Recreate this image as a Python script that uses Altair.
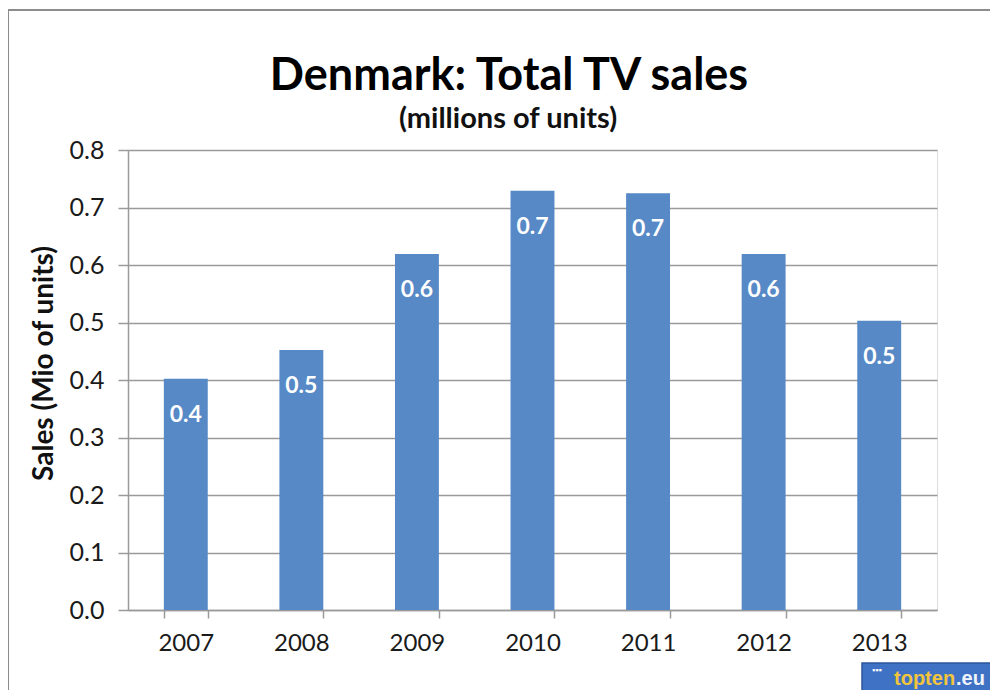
import altair as alt
import pandas as pd

years = ["2007", "2008", "2009", "2010", "2011", "2012", "2013"]
sales = [0.402, 0.452, 0.619, 0.729, 0.725, 0.619, 0.503]
title_text = "Denmark: Total TV sales"
subtitle_text = "(millions of units)"
y_title = "Sales (Mio of units)"

df = pd.DataFrame({"year": years, "sales": sales})

W, H = 809, 460
FONT = "Lato"
GRID = "#9a9a9a"

x_enc = alt.X(
    "year:N",
    sort=years,
    scale=alt.Scale(paddingInner=0.62, paddingOuter=0.31),
    axis=alt.Axis(
        title=None,
        labelAngle=0,
        labelFont=FONT,
        labelFontSize=24,
        labelColor="#1a1a1a",
        labelPadding=13,
        tickBand="extent",
        tickSize=8,
        tickColor=GRID,
        tickWidth=1.5,
        domainColor=GRID,
        domainWidth=1.5,
        grid=False,
    ),
)
y_enc = alt.Y(
    "sales:Q",
    scale=alt.Scale(domain=[0, 0.8], nice=False),
    axis=alt.Axis(
        title=y_title,
        titleFont=FONT,
        titleFontSize=28,
        titleFontWeight="bold",
        titleColor="#111111",
        titlePadding=11,
        titleY=213,
        values=[0, 0.1, 0.2, 0.3, 0.4, 0.5, 0.6, 0.7, 0.8],
        format=".1f",
        labelFont=FONT,
        labelFontSize=25,
        labelColor="#1a1a1a",
        labelPadding=14,
        tickSize=10,
        tickColor=GRID,
        tickWidth=1.5,
        domainColor=GRID,
        domainWidth=1.5,
        grid=True,
        gridColor=GRID,
        gridWidth=1.5,
    ),
)

base = alt.Chart(df)

bars = base.mark_bar(color="#5689c6").encode(x=x_enc, y=y_enc)

labels = base.mark_text(
    color="white", font=FONT, fontWeight="bold", fontSize=23, baseline="middle", dy=36
).encode(
    x=alt.X("year:N", sort=years),
    y=alt.Y("sales:Q"),
    text=alt.Text("sales:Q", format=".1f"),
)

one = alt.Data(values=[{"k": 1}])

title_mark = alt.Chart(one).mark_text(
    text=title_text, font=FONT, fontWeight="bold", fontSize=45, color="#000000",
    align="center", baseline="alphabetic"
).encode(x=alt.value(381), y=alt.value(-60))
subtitle_mark = alt.Chart(one).mark_text(
    text=subtitle_text, font=FONT, fontWeight="bold", fontSize=29, color="#111111",
    align="center", baseline="alphabetic"
).encode(x=alt.value(380), y=alt.value(-22))

frame = alt.Chart(one).mark_rect(fillOpacity=0, stroke="#8c8c8c", strokeWidth=2).encode(
    x=alt.value(-120), x2=alt.value(900), y=alt.value(-140), y2=alt.value(600)
)

logo_box = alt.Chart(one).mark_rect(color="#3f72c4", stroke="#2c559c", strokeWidth=1.5).encode(
    x=alt.value(734), x2=alt.value(900), y=alt.value(513), y2=alt.value(600)
)
logo_dots = alt.Chart(one).mark_text(
    text="▪▪▪", color="white", fontSize=9, align="left", baseline="middle"
).encode(x=alt.value(744), y=alt.value(520))
logo_top = alt.Chart(one).mark_text(
    text="topten", color="#f2c53d", font="Liberation Sans", fontWeight="bold",
    fontSize=20, align="left", baseline="alphabetic"
).encode(x=alt.value(766), y=alt.value(535))
logo_eu = alt.Chart(one).mark_text(
    text=".eu", color="#eef3fb", font="Liberation Sans", fontWeight="bold",
    fontSize=20, align="left", baseline="alphabetic"
).encode(x=alt.value(828), y=alt.value(535))

chart = (
    alt.layer(frame, bars, labels, title_mark, subtitle_mark, logo_box, logo_dots, logo_top, logo_eu)
    .properties(
        width=W,
        height=H,
        autosize=alt.AutoSizeParams(type="none"),
        padding={"left": 120, "top": 142, "right": 53, "bottom": 80},
    )
    .configure_view(stroke=None)
    .configure(background="white")
)

chart.save("out.html", embed_options={"renderer": "svg", "actions": False})
